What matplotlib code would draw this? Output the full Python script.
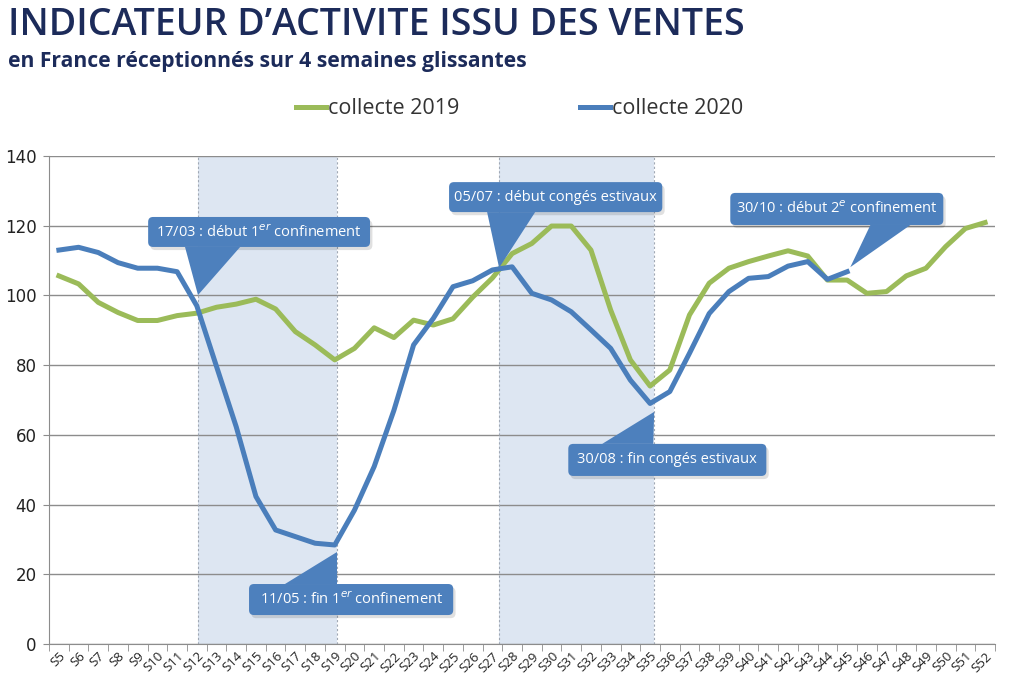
import numpy as np
import matplotlib
matplotlib.use("Agg")
import matplotlib.pyplot as plt
from matplotlib import font_manager
from matplotlib.patches import FancyBboxPatch, Polygon

######fonts: narrow font if present, like the Calibri of the original#####
names = set(f.name for f in font_manager.fontManager.ttflist)
narrow = "Liberation Sans Narrow" if "Liberation Sans Narrow" in names else "Open Sans"
plt.rcParams['font.family'] = [narrow, 'DejaVu Sans']
plt.rcParams['mathtext.fontset'] = 'custom'
plt.rcParams['mathtext.rm'] = narrow

######data#####
weeks = ['S%d' % w for w in range(5, 53)]
collecte_2019 = [105.6, 103.3, 98.0, 95.1, 92.8, 92.8, 94.2, 94.9, 96.6, 97.5,
                 98.9, 96.1, 89.6, 85.8, 81.5, 84.8, 90.7, 87.9, 92.9, 91.5,
                 93.3, 99.5, 105.0, 112.0, 114.9, 119.9, 119.9, 113.0, 95.8, 81.5,
                 74.0, 78.6, 94.4, 103.5, 107.8, 109.7, 111.3, 112.8, 111.3, 104.4,
                 104.4, 100.6, 101.1, 105.6, 107.8, 114.0, 119.2, 120.9]
collecte_2020 = [113.0, 113.8, 112.3, 109.4, 107.8, 107.8, 106.8, 97.0, 79.6, 62.3,
                 42.3, 32.7, 30.8, 28.9, 28.4, 38.4, 50.9, 67.0, 85.8, 93.4,
                 102.5, 104.2, 107.3, 108.2, 100.6, 98.7, 95.3, 90.1, 84.8, 75.7,
                 69.0, 72.4, 83.4, 94.8, 101.1, 104.9, 105.4, 108.4, 109.7, 104.6,
                 106.8]
y_ticks = [0, 20, 40, 60, 80, 100, 120, 140]

# shaded periods (week position of the event dates)
periods = [(7.06, 14.12), (22.34, 30.21)]

# callouts: text, box (x0, x1, y0, y1), pointer base (xa, xb), tip (x, y)
callouts = [
    ("17/03 : début 1$^{er}$ confinement", (4.53, 15.79, 113.9, 122.5), (6.4, 9.2), (7.06, 100.1)),
    ("05/07 : début congés estivaux", (19.8, 30.62, 123.9, 132.5), (21.73, 24.17), (22.34, 107.9)),
    ("30/10 : début 2$^{e}$ confinement", (34.07, 44.88, 120.2, 129.4), (41.18, 43.21), (40.16, 108.1)),
    ("11/05 : fin 1$^{er}$ confinement", (9.65, 20.01, 8.3, 17.2), (11.48, 14.12), (14.12, 26.4)),
    ("30/08 : fin congés estivaux", (25.85, 35.9, 48.2, 57.4), (27.57, 30.16), (30.21, 66.6)),
]

green = '#9bbb59'
blue = '#4a7ebb'
box_blue = '#4d80bd'

fig = plt.figure(figsize=(10.19, 6.88), dpi=100)
ax = fig.add_axes([0.0481, 0.064, 0.9283, 0.7093])

x = np.arange(len(weeks))
for a, b in periods:
    ax.axvspan(a, b, color='#dde6f2', zorder=0, lw=0)
    ax.axvline(a, color='#a0a8b4', lw=0.8, ls=(0, (2, 2)), zorder=1)
    ax.axvline(b, color='#a0a8b4', lw=0.8, ls=(0, (2, 2)), zorder=1)

ax.plot(x, collecte_2019, color=green, lw=3.6, label='collecte 2019', zorder=3,
        solid_joinstyle='round')
ax.plot(x[:len(collecte_2020)], collecte_2020, color=blue, lw=3.6, label='collecte 2020',
        zorder=4, solid_joinstyle='round')

ax.set_xlim(-0.5, len(weeks) - 0.5)
ax.set_ylim(0, 140)
ax.set_yticks(y_ticks)
ax.set_yticklabels([str(v) for v in y_ticks], fontsize=12, color='#222222',
                   family='DejaVu Sans')
ax.yaxis.grid(True, color='#8c8c8c', lw=1.0)
ax.set_axisbelow(True)

ax.set_xticks(x)
ax.set_xticklabels(weeks, rotation=45, ha='right', rotation_mode='anchor',
                   fontsize=9.5, color='#222222')
ax.set_xticks(np.arange(len(weeks) + 1) - 0.5, minor=True)
ax.tick_params(axis='x', which='major', length=0, pad=4)
ax.tick_params(axis='x', which='minor', length=5, color='#8c8c8c', direction='out')
ax.tick_params(axis='y', length=4, color='#8c8c8c', pad=5)

for s in ['top', 'right']:
    ax.spines[s].set_visible(False)
ax.spines['left'].set_color('#8c8c8c')
ax.spines['bottom'].set_color('#8c8c8c')

# callouts with a soft shadow
for txt, (x0, x1, y0, y1), (xa, xb), (tx, ty) in callouts:
    base_y = y0 if ty < y0 else y1
    sh = FancyBboxPatch((x0 + 0.12, y0 - 0.9), x1 - x0, y1 - y0,
                        boxstyle='round,pad=0,rounding_size=0.25', mutation_aspect=5.6,
                        fc='#000000', alpha=0.12, ec='none', zorder=5, clip_on=False)
    ax.add_patch(sh)
    ax.add_patch(Polygon([(xa, base_y), (xb, base_y), (tx, ty)], closed=True,
                         fc=box_blue, ec='none', zorder=6, clip_on=False))
    ax.add_patch(FancyBboxPatch((x0, y0), x1 - x0, y1 - y0,
                                boxstyle='round,pad=0,rounding_size=0.25', mutation_aspect=5.6,
                                fc=box_blue, ec='none', zorder=6, clip_on=False))
    ax.text((x0 + x1) / 2, (y0 + y1) / 2, txt, color='white', fontsize=10.5,
            ha='center', va='center', zorder=7)

leg = fig.legend(loc='center', bbox_to_anchor=(0.51, 0.842), ncol=2, frameon=False,
                 fontsize=15.5, handlelength=1.4, handletextpad=0.1, columnspacing=5.6)
for t in leg.get_texts():
    t.set_color('#333333')

fig.text(0.008, 0.949, "INDICATEUR D\u2019ACTIVITE ISSU DES VENTES", fontsize=27,
         fontweight='semibold', color='#1c2b5a', ha='left', va='baseline')
fig.text(0.008, 0.903, "en France réceptionnés sur 4 semaines glissantes", fontsize=15.2,
         fontweight='bold', color='#1c2b5a', ha='left', va='baseline')

fig.savefig('out.png', dpi=100)
